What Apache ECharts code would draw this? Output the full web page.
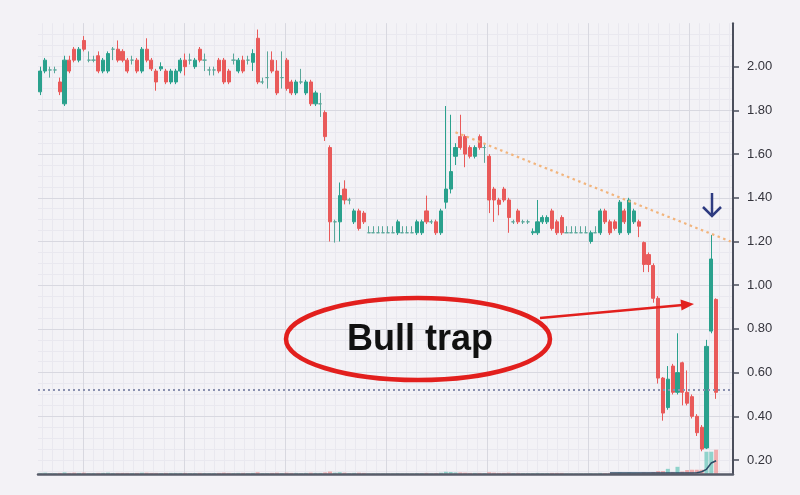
<!DOCTYPE html>
<html>
<head>
<meta charset="utf-8">
<script src="https://cdn.jsdelivr.net/npm/echarts@6/dist/echarts.min.js"></script>
<style>
html,body{margin:0;padding:0;background:#f3f2f6;}
#chart{width:800px;height:495px;}
</style>
</head>
<body>
<div id="chart"></div>
<script>
// ---- data ----
// each candle: [open, close, low, high]
const ohlc = [
[1.885,1.98,1.87,2.00],[1.98,2.03,1.97,2.04],[1.985,1.985,1.95,2.00],[1.985,1.985,1.97,2.00],[1.93,1.885,1.87,1.95],
[1.83,2.03,1.82,2.05],[2.03,1.98,1.97,2.05],[2.08,2.03,2.02,2.09],[2.03,2.08,2.02,2.09],[2.12,2.08,2.07,2.14],
[2.03,2.03,2.02,2.07],[2.03,2.03,2.02,2.05],[2.05,1.98,1.97,2.07],[1.98,2.03,1.97,2.04],[1.98,2.06,1.97,2.07],
[2.08,2.08,2.03,2.09],[2.08,2.03,2.02,2.12],[2.07,2.03,2.02,2.08],[2.03,1.98,1.97,2.04],[2.03,2.03,2.01,2.05],
[2.03,1.98,1.97,2.04],[1.98,2.08,1.97,2.09],[2.08,2.03,2.02,2.13],[2.03,1.99,1.98,2.04],[1.98,1.93,1.89,1.99],
[1.99,2.00,1.98,2.02],[1.98,1.93,1.92,1.99],[1.93,1.98,1.92,1.99],[1.93,1.98,1.92,1.99],[1.98,2.03,1.97,2.04],
[2.03,2.00,1.96,2.06],[2.03,2.03,2.01,2.06],[2.00,2.03,1.99,2.04],[2.08,2.03,2.02,2.09],[2.03,2.03,1.98,2.06],
[1.985,1.985,1.96,2.00],[1.985,1.985,1.96,2.00],[2.03,1.98,1.97,2.04],[2.03,1.93,1.92,2.04],[1.98,1.93,1.92,1.99],
[2.03,2.03,2.01,2.06],[1.98,2.03,1.97,2.04],[2.03,1.98,1.97,2.05],[2.03,2.03,2.01,2.05],[2.02,2.06,1.98,2.08],
[2.13,1.93,1.92,2.17],[1.93,1.93,1.92,1.95],[1.95,1.95,1.90,2.07],[2.03,1.98,1.97,2.07],[1.98,1.88,1.87,2.03],
[1.95,1.95,1.90,2.07],[2.03,1.90,1.89,2.04],[1.93,1.88,1.87,1.94],[1.88,1.93,1.87,1.94],[1.93,1.93,1.92,1.99],
[1.88,1.93,1.87,1.94],[1.93,1.83,1.82,1.94],[1.83,1.88,1.82,1.89],[1.83,1.83,1.77,1.88],[1.79,1.68,1.66,1.80],
[1.63,1.29,1.20,1.64],[1.29,1.29,1.195,1.30],[1.29,1.41,1.20,1.47],[1.44,1.39,1.37,1.48],[1.39,1.39,1.37,1.40],
[1.29,1.34,1.28,1.35],[1.34,1.26,1.25,1.35],[1.33,1.29,1.28,1.34],[1.24,1.24,1.24,1.27],[1.24,1.24,1.24,1.27],
[1.24,1.24,1.24,1.27],[1.24,1.24,1.24,1.27],[1.24,1.24,1.24,1.27],[1.24,1.24,1.24,1.27],[1.24,1.29,1.23,1.30],
[1.24,1.24,1.24,1.27],[1.24,1.24,1.24,1.27],[1.24,1.24,1.24,1.27],[1.24,1.29,1.23,1.30],[1.24,1.29,1.23,1.30],
[1.34,1.29,1.28,1.41],[1.29,1.29,1.28,1.30],[1.29,1.24,1.23,1.30],[1.24,1.34,1.23,1.35],[1.38,1.44,1.35,1.82],
[1.44,1.52,1.42,1.78],[1.59,1.63,1.55,1.65],[1.68,1.63,1.62,1.78],[1.68,1.60,1.54,1.69],[1.63,1.59,1.58,1.64],
[1.59,1.63,1.58,1.64],[1.68,1.63,1.62,1.69],[1.63,1.63,1.56,1.65],[1.59,1.39,1.33,1.60],[1.44,1.39,1.29,1.45],
[1.39,1.37,1.32,1.40],[1.44,1.39,1.38,1.45],[1.39,1.31,1.24,1.40],[1.29,1.29,1.28,1.30],[1.34,1.29,1.28,1.35],
[1.29,1.29,1.28,1.30],[1.29,1.29,1.28,1.30],[1.24,1.245,1.23,1.26],[1.24,1.29,1.23,1.39],[1.29,1.31,1.28,1.32],
[1.29,1.31,1.28,1.32],[1.34,1.26,1.25,1.35],[1.29,1.24,1.23,1.30],[1.31,1.24,1.23,1.32],[1.24,1.24,1.24,1.27],
[1.24,1.24,1.24,1.27],[1.24,1.24,1.24,1.27],[1.24,1.24,1.24,1.27],[1.24,1.24,1.24,1.27],[1.20,1.24,1.19,1.25],
[1.24,1.24,1.24,1.27],[1.24,1.34,1.23,1.35],[1.34,1.29,1.28,1.35],[1.29,1.24,1.23,1.30],[1.29,1.26,1.25,1.30],
[1.24,1.38,1.23,1.39],[1.34,1.29,1.28,1.35],[1.24,1.39,1.23,1.40],[1.29,1.34,1.28,1.35],[1.29,1.27,1.22,1.30],
[1.195,1.095,1.06,1.20],[1.14,1.095,1.06,1.15],[1.09,0.94,0.92,1.10],[0.94,0.575,0.55,0.95],[0.575,0.415,0.38,0.58],
[0.44,0.57,0.43,0.63],[0.63,0.51,0.50,0.64],[0.51,0.60,0.50,0.78],[0.645,0.51,0.45,0.65],[0.51,0.46,0.45,0.61],
[0.49,0.40,0.39,0.50],[0.40,0.325,0.31,0.41],[0.35,0.25,0.24,0.36],[0.255,0.72,0.25,0.75],[0.79,1.12,0.78,1.23],
[0.935,0.51,0.48,0.94]
];

// volume (arbitrary units)
const volume = [
0.04,0.05,0.03,0.03,0.04,0.06,0.04,0.05,0.04,0.05,
0.03,0.03,0.04,0.04,0.05,0.03,0.04,0.04,0.04,0.03,
0.04,0.05,0.05,0.04,0.04,0.03,0.04,0.04,0.04,0.04,
0.04,0.03,0.03,0.04,0.03,0.03,0.03,0.04,0.05,0.04,
0.03,0.04,0.04,0.03,0.04,0.07,0.03,0.03,0.04,0.05,
0.03,0.05,0.04,0.04,0.03,0.04,0.05,0.04,0.04,0.06,
0.10,0.05,0.07,0.05,0.03,0.04,0.05,0.04,0.02,0.02,
0.02,0.02,0.02,0.02,0.03,0.02,0.02,0.02,0.03,0.03,
0.04,0.02,0.03,0.05,0.09,0.08,0.06,0.06,0.05,0.04,
0.04,0.04,0.03,0.07,0.05,0.04,0.04,0.05,0.03,0.04,
0.03,0.03,0.03,0.04,0.03,0.03,0.04,0.04,0.04,0.02,
0.02,0.02,0.02,0.02,0.03,0.02,0.04,0.03,0.03,0.03,
0.05,0.03,0.05,0.03,0.03,0.06,0.05,0.08,0.12,0.12,
0.22,0.08,0.31,0.10,0.17,0.18,0.18,0.18,0.98,0.98,1.07
];

// volume moving average, [candle index, value]
const volumeMA = [
[118,0.03],[122,0.03],[126,0.035],[130,0.03],[133,0.03],[134,0.03],[135,0.04],[136,0.05],[137,0.09],[138,0.2],[139,0.48],[140,0.58]
];

const priceTicks = [0.20,0.40,0.60,0.80,1.00,1.20,1.40,1.60,1.80,2.00];
const trendLine = [[86,1.70],[143,1.20]];
const supportLevel = 0.517;
const slotCount = 144;
const annotationText = 'Bull trap';

// ---- chart ----
const categories = [];
for (let i = 0; i < slotCount; i++) categories.push(String(i + 1));

const UP = '#2aa18d', DOWN = '#e95a5a';
const volData = volume.map((v, i) => ({
  value: v,
  itemStyle: { color: ohlc[i][1] >= ohlc[i][0] ? 'rgba(110,200,188,0.75)' : 'rgba(240,150,150,0.75)' }
}));

const hidden = { axisLine: { show: false }, axisTick: { show: false }, axisLabel: { show: false } };
const chart = echarts.init(document.getElementById('chart'), null, { renderer: 'canvas' });

chart.setOption({
  animation: false,
  backgroundColor: '#f3f2f6',
  grid: { left: 38, right: 67, top: 23.2, bottom: 21.2, containLabel: false },
  xAxis: [
    { type: 'category', data: categories, boundaryGap: true,
      axisLine: { show: true, lineStyle: { color: '#585c69', width: 2.5 } },
      axisTick: { show: false }, axisLabel: { show: false }, splitLine: { show: false }, z: 4 },
    Object.assign({ type: 'value', min: -0.4455, max: 6.4356, splitNumber: 7, z: 1,
      splitLine: { show: true, showMinLine: false, showMaxLine: false, lineStyle: { color: '#d8d8e0', width: 1 } } }, hidden),
    Object.assign({ type: 'value', min: -0.4455, max: 6.4356, splitNumber: 69, z: 0,
      splitLine: { show: true, showMinLine: false, showMaxLine: false, lineStyle: { color: '#e9e8ef', width: 1 } } }, hidden)
  ],
  yAxis: [
    { type: 'value', position: 'right', min: 0.137, max: 2.199, splitNumber: 10, z: 1,
      axisLine: { show: true, onZero: false, lineStyle: { color: '#4b4f5c', width: 2 } },
      axisTick: { show: true, length: 6, customValues: priceTicks, lineStyle: { color: '#4b4f5c', width: 1.5 } },
      axisLabel: { customValues: priceTicks, formatter: v => Number(v).toFixed(2), margin: 14,
        color: '#34343c', fontSize: 13, fontFamily: '"Liberation Sans", Arial, sans-serif' },
      splitLine: { show: true, showMinLine: false, showMaxLine: false, lineStyle: { color: '#d8d8e0', width: 1 } } },
    Object.assign({ type: 'value', min: 0.137, max: 2.199, splitNumber: 41, z: 0,
      splitLine: { show: true, showMinLine: false, showMaxLine: false, lineStyle: { color: '#e9e8ef', width: 1 } } }, hidden),
    { type: 'value', min: 0, max: 20, show: false }
  ],
  series: [
    { type: 'bar', name: 'volume', xAxisIndex: 0, yAxisIndex: 2, data: volData, barWidth: 4, z: 2, silent: true },
    { type: 'line', name: 'volMA', xAxisIndex: 0, yAxisIndex: 2, data: volumeMA, showSymbol: false, z: 3,
      lineStyle: { color: '#2d4b66', width: 1.5 }, silent: true },
    { type: 'candlestick', name: 'price', xAxisIndex: 0, yAxisIndex: 0, data: ohlc, barWidth: 3.6, z: 3,
      itemStyle: { color: UP, color0: DOWN, borderColor: UP, borderColor0: DOWN, borderColorDoji: '#5aa79a', borderWidth: 1 },
      markLine: {
        silent: true, symbol: ['none', 'none'], label: { show: false },
        data: [
          [ { coord: trendLine[0], lineStyle: { color: '#f2b47c', width: 2.2, type: [2.5, 3.5] } }, { coord: trendLine[1] } ],
          { yAxis: supportLevel, lineStyle: { color: '#8a91b0', width: 2, type: [2, 3] } }
        ]
      }
    }
  ],
  graphic: [
    { type: 'ellipse', z: 100, shape: { cx: 418, cy: 339, rx: 132, ry: 41 },
      style: { fill: 'none', stroke: '#e21f1d', lineWidth: 4.5 } },
    { type: 'text', z: 100, x: 420, y: 340,
      style: { text: annotationText, fill: '#111111', font: 'bold 36px "Liberation Sans", Arial, sans-serif',
        align: 'center', verticalAlign: 'middle' } },
    { type: 'line', z: 100, shape: { x1: 540, y1: 318, x2: 683, y2: 305 },
      style: { stroke: '#e21f1d', lineWidth: 2.5 } },
    { type: 'polygon', z: 100, shape: { points: [[694, 304], [681.5, 310.5], [680.5, 299.5]] },
      style: { fill: '#e21f1d' } },
    { type: 'line', z: 100, shape: { x1: 712, y1: 193, x2: 712, y2: 216 },
      style: { stroke: '#2d3a80', lineWidth: 2.5 } },
    { type: 'polyline', z: 100, shape: { points: [[703, 207], [712, 216], [721, 207]] },
      style: { stroke: '#2d3a80', lineWidth: 2.5, fill: 'none' } }
  ]
});
</script>
</body>
</html>
